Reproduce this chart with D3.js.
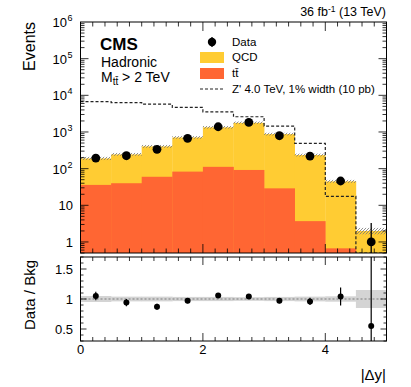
<!DOCTYPE html>
<html>
<head>
<meta charset="UTF-8">
<title>CMS |dy| hadronic</title>
<script src="https://d3js.org/d3.v7.min.js"></script>
<style>
  body { margin: 0; background: #fff; }
  svg text { font-family: "Liberation Sans", Arial, Helvetica, sans-serif; fill: #000; }
</style>
</head>
<body>
<svg id="chart" width="411" height="387"></svg>
<script>
// bin edges in |dy|
const binEdges = [0, 0.5, 1, 1.5, 2, 2.5, 3, 3.5, 4, 4.5, 5];
// backgrounds (events per bin)
const qcd   = [154, 205, 345, 627, 1228, 1688, 846, 231, 44.3, 2.0];
const ttbar = [36, 40, 60, 83, 112, 92, 29, 3.7, 0.67, 0];
// background uncertainty (relative)
const bkgUnc = [0.05, 0.04, 0.04, 0.035, 0.035, 0.03, 0.035, 0.04, 0.045, 0.15];
// data
const dataVals = [194, 225, 336, 670, 1390, 1820, 790, 220, 46, 1.0];
const dataErrUp = [14, 15, 18, 26, 37, 43, 28, 15, 7, 2.3];
const dataErrDn = [14, 15, 18, 26, 37, 43, 28, 15, 7, 1.0];
// signal Z' 4 TeV
const zprime = [6700, 6300, 5750, 4680, 3540, 2600, 1450, 490, 17.6, 0];
// ratio panel
const ratioVals = [1.05, 0.94, 0.87, 0.97, 1.06, 1.04, 0.97, 0.96, 1.04, 0.55];
const ratioErr  = [0.07, 0.06, 0.05, 0.04, 0.03, 0.03, 0.04, 0.06, 0.15, 1.3];

const upperTicks = [1, 10, 100, 1000, 1e4, 1e5, 1e6];
const upperTickLabels = [["1", ""], ["10", ""], ["10", "2"], ["10", "3"], ["10", "4"], ["10", "5"], ["10", "6"]];
const ratioTicks = [0.5, 1, 1.5];
const ratioTickLabels = ["0.5", "1", "1.5"];
const xTicks = [0, 2, 4];
const xTickLabels = ["0", "2", "4"];

const svg = d3.select("#chart");
const L = 80.5, R = 386.5;
const T1 = 22, B1 = 253, T2 = 257, B2 = 341;

const x = d3.scaleLinear().domain([0, 5]).range([L, R]);
const yUp = d3.scaleLog().domain([0.5, 1e6]).range([B1, T1]);
const yLow = d3.scaleLinear().domain([0.3, 1.7]).range([B2, T2]);
const yU = v => v <= 0.5 ? B1 : yUp(v);

const YELLOW = "#ffcc33", RED = "#ff6633";

const defs = svg.append("defs");
defs.append("clipPath").attr("id", "clipUp").append("rect")
  .attr("x", L).attr("y", T1).attr("width", R - L).attr("height", B1 - T1);
defs.append("clipPath").attr("id", "clipLow").append("rect")
  .attr("x", L).attr("y", T2).attr("width", R - L).attr("height", B2 - T2);
const pat = defs.append("pattern").attr("id", "hatch").attr("patternUnits", "userSpaceOnUse")
  .attr("width", 3).attr("height", 3);
pat.append("path").attr("d", "M0,3 L3,0").attr("stroke", "#777").attr("stroke-width", 0.8);

const bins = d3.range(qcd.length).map(i => ({
  lo: binEdges[i], hi: binEdges[i + 1],
  tt: ttbar[i], tot: qcd[i] + ttbar[i], unc: bkgUnc[i],
  d: dataVals[i], eu: dataErrUp[i], ed: dataErrDn[i],
  z: zprime[i], r: ratioVals[i], re: ratioErr[i]
}));

// ---------- upper panel ----------
const up = svg.append("g").attr("clip-path", "url(#clipUp)");

up.selectAll("rect.qcd").data(bins).enter().append("rect")
  .attr("x", d => x(d.lo)).attr("width", d => x(d.hi) - x(d.lo) + 0.3)
  .attr("y", d => yU(d.tot)).attr("height", d => B1 - yU(d.tot))
  .attr("fill", YELLOW);

up.selectAll("rect.tt").data(bins.filter(d => d.tt > 0)).enter().append("rect")
  .attr("x", d => x(d.lo)).attr("width", d => x(d.hi) - x(d.lo) + 0.3)
  .attr("y", d => yU(d.tt)).attr("height", d => B1 - yU(d.tt))
  .attr("fill", RED);

// uncertainty hatch on stack
up.selectAll("rect.unc").data(bins).enter().append("rect")
  .attr("x", d => x(d.lo)).attr("width", d => x(d.hi) - x(d.lo))
  .attr("y", d => yU(d.tot * (1 + d.unc)) - 0.8)
  .attr("height", d => yU(d.tot * (1 - d.unc)) - yU(d.tot * (1 + d.unc)) + 1.6)
  .attr("fill", "url(#hatch)");

// Z' step line
const zPts = [];
bins.forEach(d => { zPts.push([x(d.lo), yU(d.z)]); zPts.push([x(d.hi), yU(d.z)]); });
up.append("path").attr("d", d3.line()(zPts))
  .attr("fill", "none").attr("stroke", "#222").attr("stroke-width", 1.2)
  .attr("stroke-dasharray", "3,2");

// data
up.selectAll("line.err").data(bins).enter().append("line")
  .attr("x1", d => x((d.lo + d.hi) / 2)).attr("x2", d => x((d.lo + d.hi) / 2))
  .attr("y1", d => yU(d.d + d.eu)).attr("y2", d => yU(d.d - d.ed))
  .attr("stroke", "#000").attr("stroke-width", 1.3);
up.selectAll("circle").data(bins).enter().append("circle")
  .attr("cx", d => x((d.lo + d.hi) / 2)).attr("cy", d => yU(d.d))
  .attr("r", 4.4).attr("fill", "#000");

// ---------- lower panel ----------
const low = svg.append("g").attr("clip-path", "url(#clipLow)");
low.selectAll("rect.band").data(bins).enter().append("rect")
  .attr("x", d => x(d.lo)).attr("width", d => x(d.hi) - x(d.lo) + 0.3)
  .attr("y", d => yLow(1 + d.unc)).attr("height", d => yLow(1 - d.unc) - yLow(1 + d.unc))
  .attr("fill", "#d4d4d4");
low.append("line").attr("x1", L).attr("x2", R).attr("y1", yLow(1)).attr("y2", yLow(1))
  .attr("stroke", "#999").attr("stroke-width", 1.4).attr("stroke-dasharray", "2,2");
low.selectAll("line.err").data(bins).enter().append("line")
  .attr("x1", d => x((d.lo + d.hi) / 2)).attr("x2", d => x((d.lo + d.hi) / 2))
  .attr("y1", d => yLow(d.r + d.re)).attr("y2", d => yLow(d.r - d.re))
  .attr("stroke", "#000").attr("stroke-width", 1.2);
low.selectAll("circle").data(bins).enter().append("circle")
  .attr("cx", d => x((d.lo + d.hi) / 2)).attr("cy", d => yLow(d.r))
  .attr("r", 3).attr("fill", "#000");

// ---------- frames and ticks ----------
const axes = svg.append("g").attr("stroke", "#000").attr("stroke-width", 0.8);
function xTicksFor(top, bottom, maj, min) {
  for (let i = 0; i <= 25; i++) {
    const v = i * 0.2, xx = x(v), len = (i % 10 === 0) ? maj : min;
    axes.append("line").attr("x1", xx).attr("x2", xx).attr("y1", bottom).attr("y2", bottom - len);
    axes.append("line").attr("x1", xx).attr("x2", xx).attr("y1", top).attr("y2", top + len);
  }
}
xTicksFor(T1, B1, 9, 4.5);
xTicksFor(T2, B2, 8, 4);

// log ticks upper
for (let e = -1; e <= 5; e++) {
  for (let m = 1; m <= 9; m++) {
    const v = m * Math.pow(10, e);
    if (v < 0.5 || v > 1e6) continue;
    const yy = yUp(v), len = m === 1 ? 8 : 4;
    axes.append("line").attr("x1", L).attr("x2", L + len).attr("y1", yy).attr("y2", yy);
    axes.append("line").attr("x1", R).attr("x2", R - len).attr("y1", yy).attr("y2", yy);
  }
}
// linear ticks lower
for (let i = 3; i <= 17; i++) {
  const v = i / 10, yy = yLow(v), len = (i % 5 === 0) ? 6 : 3;
  axes.append("line").attr("x1", L).attr("x2", L + len).attr("y1", yy).attr("y2", yy);
  axes.append("line").attr("x1", R).attr("x2", R - len).attr("y1", yy).attr("y2", yy);
}
svg.append("rect").attr("x", L).attr("y", T1).attr("width", R - L).attr("height", B1 - T1)
  .attr("fill", "none").attr("stroke", "#000").attr("stroke-width", 1);
svg.append("rect").attr("x", L).attr("y", T2).attr("width", R - L).attr("height", B2 - T2)
  .attr("fill", "none").attr("stroke", "#000").attr("stroke-width", 1);

// tick labels
upperTicks.forEach((v, i) => {
  const [base, sup] = upperTickLabels[i];
  svg.append("text").attr("x", sup ? 67 : 73).attr("y", yUp(v) + 5)
    .attr("text-anchor", "end").attr("font-size", 13).text(base);
  if (sup) {
    svg.append("text").attr("x", 67.5).attr("y", yUp(v) - 1).attr("font-size", 9).text(sup);
  }
});
ratioTicks.forEach((v, i) => {
  svg.append("text").attr("x", 73).attr("y", yLow(v) + 5).attr("text-anchor", "end")
    .attr("font-size", 13).text(ratioTickLabels[i]);
});
xTicks.forEach((v, i) => {
  svg.append("text").attr("x", x(v)).attr("y", 354).attr("text-anchor", "middle")
    .attr("font-size", 13).text(xTickLabels[i]);
});

// axis titles
svg.append("text").attr("transform", "translate(35,22) rotate(-90)")
  .attr("text-anchor", "end").attr("font-size", 16).text("Events");
svg.append("text").attr("transform", "translate(35,260) rotate(-90)")
  .attr("text-anchor", "end").attr("font-size", 15).text("Data / Bkg");
svg.append("text").attr("x", 386).attr("y", 380).attr("text-anchor", "end")
  .attr("font-size", 15).text("|Δy|");

// header
const hdr = svg.append("text").attr("x", 386).attr("y", 16).attr("text-anchor", "end").attr("font-size", 12.5);
hdr.append("tspan").text("36 fb");
hdr.append("tspan").attr("dy", -4.5).attr("font-size", 8.5).text("-1");
hdr.append("tspan").attr("dy", 4.5).text(" (13 TeV)");

svg.append("text").attr("x", 100).attr("y", 50).attr("font-size", 17).attr("font-weight", "bold").text("CMS");
svg.append("text").attr("x", 101).attr("y", 67).attr("font-size", 14).text("Hadronic");
const mt = svg.append("text").attr("x", 101).attr("y", 82).attr("font-size", 14);
mt.append("tspan").text("M");
mt.append("tspan").attr("dy", 3).attr("font-size", 10).text("tt\u0304");
mt.append("tspan").attr("dy", -3).text(" > 2 TeV");

// legend
const lg = svg.append("g");
lg.append("line").attr("x1", 212).attr("x2", 212).attr("y1", 37).attr("y2", 47).attr("stroke", "#000").attr("stroke-width", 1.3);
lg.append("circle").attr("cx", 212).attr("cy", 42).attr("r", 4.2).attr("fill", "#000");
lg.append("text").attr("x", 232).attr("y", 46).attr("font-size", 11.5).text("Data");
lg.append("rect").attr("x", 200).attr("y", 52).attr("width", 24).attr("height", 11).attr("fill", YELLOW);
lg.append("text").attr("x", 232).attr("y", 61).attr("font-size", 11.5).text("QCD");
lg.append("rect").attr("x", 200).attr("y", 68).attr("width", 24).attr("height", 11).attr("fill", RED);
lg.append("text").attr("x", 232).attr("y", 77).attr("font-size", 11.5).text("tt\u0304");
lg.append("line").attr("x1", 200).attr("x2", 225).attr("y1", 89).attr("y2", 89)
  .attr("stroke", "#222").attr("stroke-width", 1.2).attr("stroke-dasharray", "3,2");
lg.append("text").attr("x", 232).attr("y", 93).attr("font-size", 11.5).text("Z' 4.0 TeV, 1% width (10 pb)");
</script>
</body>
</html>
